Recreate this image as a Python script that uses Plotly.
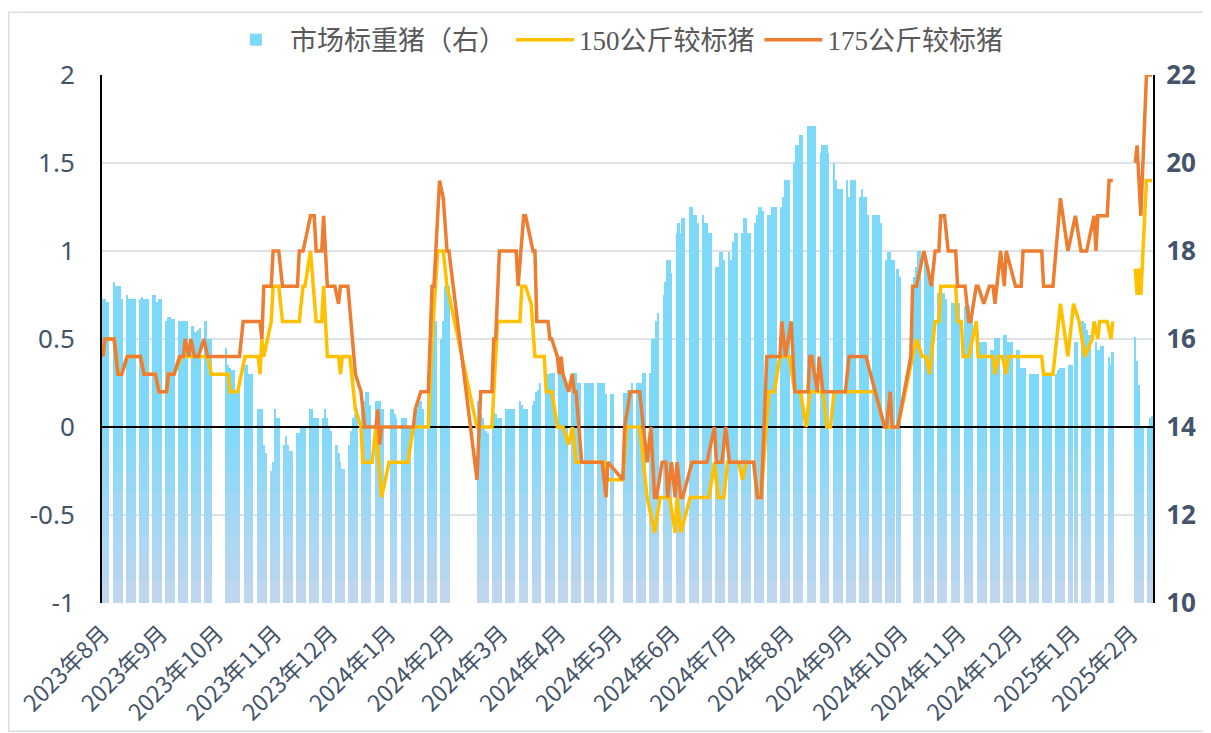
import plotly.graph_objects as go
from datetime import date, timedelta

# ---------------- data ----------------
# Trading-week starts (Mondays) and the market-standard-hog bar values (right axis), Mon..Fri
week_starts = [
    '2023-07-31', '2023-08-07', '2023-08-14', '2023-08-21', '2023-08-28',
    '2023-09-04', '2023-09-11', '2023-09-18', '2023-09-25', '2023-10-02',
    '2023-10-09', '2023-10-16', '2023-10-23', '2023-10-30', '2023-11-06',
    '2023-11-13', '2023-11-20', '2023-11-27', '2023-12-04', '2023-12-11',
    '2023-12-18', '2023-12-25', '2024-01-01', '2024-01-08', '2024-01-15',
    '2024-01-22', '2024-01-29', '2024-02-05', '2024-02-12', '2024-02-19',
    '2024-02-26', '2024-03-04', '2024-03-11', '2024-03-18', '2024-03-25',
    '2024-04-01', '2024-04-08', '2024-04-15', '2024-04-22', '2024-04-29',
    '2024-05-06', '2024-05-13', '2024-05-20', '2024-05-27', '2024-06-03',
    '2024-06-10', '2024-06-17', '2024-06-24', '2024-07-01', '2024-07-08',
    '2024-07-15', '2024-07-22', '2024-07-29', '2024-08-05', '2024-08-12',
    '2024-08-19', '2024-08-26', '2024-09-02', '2024-09-09', '2024-09-16',
    '2024-09-23', '2024-09-30', '2024-10-07', '2024-10-14', '2024-10-21',
    '2024-10-28', '2024-11-04', '2024-11-11', '2024-11-18', '2024-11-25',
    '2024-12-02', '2024-12-09', '2024-12-16', '2024-12-23', '2024-12-30',
    '2025-01-06', '2025-01-13', '2025-01-20', '2025-01-27', '2025-02-03',
    '2025-02-10',
]
N = None
hog_week_values = [
    [N, 16.9, 16.9, 16.85, 16.85], [17.3, 17.2, 17.2, 17.2, 16.9], [17.0, 16.9, 16.9, 16.9, 16.9],
    [16.9, 16.95, 16.9, 16.9, 16.9], [17.0, 17.0, 16.85, 16.9, 16.9], [16.4, 16.5, 16.5, 16.45, 16.45],
    [16.4, 16.4, 16.4, 16.4, 16.4], [16.3, 16.15, 16.15, 16.2, 16.25], [16.4, 16.0, 16.0, 16.0, N],
    [N, N, N, N, 15.8], [15.3, 15.3, 14.84, 14.84, 14.84], [15.4, 15.4, 15.2, 15.2, 15.2],
    [14.42, 14.42, 14.42, 13.6, 13.4], [13.0, 13.2, 14.4, 14.2, 14.2], [13.6, 13.8, 13.6, 13.45, 13.45],
    [13.86, 13.86, 14.0, 14.0, 14.0], [14.42, 14.42, 14.2, 14.2, 14.2], [14.2, 14.42, 14.2, 14.0, 13.9],
    [13.6, 13.4, 13.2, 13.05, 13.05], [13.6, 13.9, 14.2, 14.3, 14.4], [14.5, 14.6, 14.8, 14.8, 14.5],
    [14.6, 14.6, 14.6, 14.42, 14.42], [N, 14.42, 14.42, 14.3, 14.2], [14.2, 14.2, 14.2, 14.0, 14.0],
    [14.2, 14.4, 14.6, 14.6, 14.4], [15.2, 15.4, 15.6, 16.0, 16.4], [16.0, 16.4, 17.2, 17.2, 17.2],
    [N, N, N, N, N], [N, N, N, N, N], [14.3, 14.2, 14.0, 13.9, 13.86],
    [14.35, 14.3, 14.2, 14.2, 14.2], [14.4, 14.4, 14.4, 14.4, 14.4], [14.6, 14.5, 14.42, 14.42, 14.42],
    [14.5, 14.6, 14.8, 14.84, 15.0], [15.2, 15.2, 15.2, 15.22, 15.22], [15.22, 15.22, 15.22, 15.0, 15.0],
    [15.22, 15.22, 15.22, 15.0, 15.0], [15.0, 15.0, 15.0, 15.0, 15.0], [15.0, 15.0, 15.0, 15.0, 14.75],
    [14.75, 14.75, N, N, N], [14.77, 14.77, 14.84, 14.84, 15.0], [15.0, 15.0, 15.0, 15.22, 15.22],
    [15.22, 16.0, 16.0, 16.4, 16.58], [17.0, 17.3, 17.8, 17.8, 17.5], [18.4, 18.63, 18.4, 18.74, 18.74],
    [19.0, 19.0, 18.82, 18.82, 18.63], [18.82, 18.63, 18.63, 18.4, 18.4], [17.64, 17.64, 17.98, 17.98, 17.8],
    [17.98, 17.8, 18.21, 18.4, 18.4], [18.4, 18.74, 18.74, 18.4, 18.4], [18.63, 18.82, 19.0, 19.0, 18.9],
    [18.82, 18.82, 19.0, 19.0, 19.0], [19.0, 19.23, 19.61, 19.61, 19.61], [20.0, 20.41, 20.41, 20.64, 20.64],
    [20.83, 20.83, 20.83, 20.83, 20.83], [20.22, 20.41, 20.41, 20.41, 20.22], [20.0, 19.61, 19.42, 19.42, 19.42],
    [19.61, 19.23, 19.61, 19.61, 19.61], [19.23, 19.42, 19.23, 19.23, 18.82], [18.82, 18.82, 18.82, 18.82, 18.63],
    [17.8, 17.98, 17.98, 17.8, 17.8], [17.42, N, N, N, N], [N, 17.42, 17.64, 18.0, 18.0],
    [17.8, 17.64, 17.3, 17.3, 17.3], [17.04, 17.04, 17.04, 17.04, 16.9], [16.81, 16.81, 16.81, 16.81, 16.81],
    [16.76, 16.76, 16.76, 16.6, 16.6], [16.17, 15.94, 15.94, 15.94, 15.94], [15.75, 15.75, 16.03, 16.03, 16.03],
    [16.1, 16.1, 15.94, 15.94, 15.94], [15.75, 15.75, 15.33, 15.33, 15.33], [15.2, 15.2, 15.2, 15.2, 15.2],
    [15.2, 15.2, 15.2, 15.2, 15.2], [15.2, 15.3, 15.33, 15.33, 15.33], [15.4, 15.4, N, 15.94, 15.94],
    [16.4, 16.36, 16.2, 16.1, 16.1], [15.94, 15.75, 15.75, 15.83, 15.83], [15.6, 15.4, 15.7, N, N],
    [N, N, N, N, N], [16.05, 15.5, 14.95, 14.0, 14.0], [14.0, 14.2, 14.25, N, N],
]
# weekend make-up working days that also carry a bar
extra_days = ['2023-10-07', '2023-10-08', '2024-02-18', '2024-09-29']
extra_values = [15.4, 15.35, 14.6, 17.6]

# 150 kg vs standard hog (left axis), vertices
p150_dates = [
    '2023-08-01', '2023-08-02', '2023-08-07', '2023-08-09', '2023-08-11', '2023-08-14', '2023-08-21', '2023-08-23',
    '2023-08-29', '2023-08-31', '2023-09-04', '2023-09-05', '2023-09-08', '2023-09-12', '2023-09-26', '2023-09-28',
    '2023-10-07', '2023-10-08', '2023-10-12', '2023-10-14', '2023-10-16', '2023-10-23', '2023-10-24', '2023-10-25',
    '2023-10-26', '2023-10-30', '2023-10-31', '2023-11-03', '2023-11-05', '2023-11-14', '2023-11-16', '2023-11-17',
    '2023-11-20', '2023-11-23', '2023-11-26', '2023-11-27', '2023-11-29', '2023-12-05', '2023-12-06', '2023-12-07',
    '2023-12-11', '2023-12-14', '2023-12-17', '2023-12-18', '2023-12-23', '2023-12-25', '2023-12-28', '2024-01-01',
    '2024-01-11', '2024-01-14', '2024-01-22', '2024-01-24', '2024-01-27', '2024-01-30', '2024-02-01', '2024-02-17',
    '2024-02-25', '2024-02-28', '2024-03-11', '2024-03-12', '2024-03-14', '2024-03-17', '2024-03-19', '2024-03-24',
    '2024-03-25', '2024-03-28', '2024-03-31', '2024-04-03', '2024-04-06', '2024-04-08', '2024-04-10', '2024-04-25',
    '2024-04-27', '2024-05-05', '2024-05-07', '2024-05-14', '2024-05-15', '2024-05-18', '2024-05-22', '2024-05-25',
    '2024-05-30', '2024-06-02', '2024-06-03', '2024-06-05', '2024-06-10', '2024-06-20', '2024-06-23', '2024-06-25',
    '2024-06-28', '2024-06-30', '2024-07-06', '2024-07-08', '2024-07-10', '2024-07-14', '2024-07-16', '2024-07-18',
    '2024-07-22', '2024-07-25', '2024-07-28', '2024-08-02', '2024-08-05', '2024-08-08', '2024-08-11', '2024-08-13',
    '2024-08-20', '2024-08-22', '2024-08-24', '2024-08-26', '2024-09-17', '2024-09-22', '2024-09-29', '2024-10-07',
    '2024-10-09', '2024-10-12', '2024-10-14', '2024-10-16', '2024-10-18', '2024-10-19', '2024-10-21', '2024-10-22',
    '2024-10-30', '2024-10-31', '2024-11-02', '2024-11-03', '2024-11-06', '2024-11-10', '2024-11-11', '2024-11-19',
    '2024-11-20', '2024-11-22', '2024-11-24', '2024-11-26', '2024-11-27', '2024-12-15', '2024-12-16', '2024-12-21',
    '2024-12-25', '2024-12-29', '2025-01-01', '2025-01-04', '2025-01-07', '2025-01-11', '2025-01-12', '2025-01-14',
    '2025-01-15', '2025-01-19', '2025-01-21', '2025-01-22', '2025-01-27', '2025-02-03', '2025-02-04', '2025-02-05',
    '2025-02-06', '2025-02-09', '2025-02-12',
]
p150_values = [
    0.4, 0.5, 0.5, 0.3, 0.3, 0.4, 0.4, 0.3,
    0.3, 0.2, 0.2, 0.3, 0.3, 0.4, 0.4, 0.3,
    0.3, 0.2, 0.2, 0.3, 0.4, 0.4, 0.3, 0.5,
    0.4, 0.6, 0.8, 0.8, 0.6, 0.6, 0.8, 0.8,
    1.0, 0.6, 0.6, 0.8, 0.4, 0.4, 0.3, 0.4,
    0.4, 0.1, 0.0, -0.2, -0.2, 0.0, -0.4, -0.2,
    -0.2, 0.0, 0.0, 0.5, 1.0, 1.0, 0.8, 0.0,
    0.0, 0.6, 0.6, 0.8, 0.8, 0.7, 0.4, 0.4,
    0.2, 0.2, 0.0, 0.0, -0.1, 0.0, -0.2, -0.2,
    -0.3, -0.3, 0.0, 0.0, -0.1, -0.4, -0.6, -0.4,
    -0.4, -0.6, -0.4, -0.6, -0.4, -0.4, -0.2, -0.4,
    -0.4, -0.2, -0.2, -0.3, -0.2, -0.2, -0.4, -0.4,
    0.2, 0.2, 0.4, 0.4, 0.2, 0.2, 0.0, 0.2,
    0.2, 0.0, 0.0, 0.2, 0.2, 0.0, 0.0, 0.4,
    0.5, 0.4, 0.4, 0.3, 0.5, 0.6, 0.6, 0.8,
    0.8, 0.6, 0.6, 0.4, 0.4, 0.6, 0.4, 0.4,
    0.3, 0.4, 0.4, 0.3, 0.4, 0.4, 0.3, 0.3,
    0.7, 0.4, 0.7, 0.6, 0.4, 0.5, 0.6, 0.5,
    0.6, 0.6, 0.5, 0.6, None, 0.9, 0.75, 0.9,
    0.75, 1.4, 1.4,
]

# 175 kg vs standard hog (left axis), vertices
p175_dates = [
    '2023-08-01', '2023-08-02', '2023-08-07', '2023-08-09', '2023-08-11', '2023-08-14', '2023-08-21', '2023-08-23',
    '2023-08-29', '2023-08-31', '2023-09-04', '2023-09-05', '2023-09-08', '2023-09-11', '2023-09-13', '2023-09-14',
    '2023-09-16', '2023-09-17', '2023-09-19', '2023-09-21', '2023-09-24', '2023-09-26', '2023-10-13', '2023-10-15',
    '2023-10-24', '2023-10-25', '2023-10-26', '2023-10-30', '2023-10-31', '2023-11-03', '2023-11-05', '2023-11-13',
    '2023-11-14', '2023-11-16', '2023-11-20', '2023-11-22', '2023-11-23', '2023-11-26', '2023-11-27', '2023-11-29',
    '2023-12-03', '2023-12-05', '2023-12-06', '2023-12-10', '2023-12-14', '2023-12-17', '2023-12-19', '2023-12-25',
    '2023-12-26', '2023-12-27', '2023-12-28', '2024-01-14', '2024-01-15', '2024-01-18', '2024-01-22', '2024-01-24',
    '2024-01-25', '2024-01-28', '2024-01-30', '2024-02-01', '2024-02-02', '2024-02-17', '2024-02-19', '2024-02-25',
    '2024-02-26', '2024-02-27', '2024-02-29', '2024-03-09', '2024-03-10', '2024-03-13', '2024-03-14', '2024-03-18',
    '2024-03-19', '2024-03-20', '2024-03-26', '2024-03-27', '2024-03-28', '2024-03-31', '2024-04-01', '2024-04-02',
    '2024-04-03', '2024-04-06', '2024-04-08', '2024-04-09', '2024-04-10', '2024-04-13', '2024-04-24', '2024-04-26',
    '2024-04-27', '2024-05-05', '2024-05-06', '2024-05-09', '2024-05-14', '2024-05-15', '2024-05-18', '2024-05-20',
    '2024-05-22', '2024-05-23', '2024-05-26', '2024-05-28', '2024-05-29', '2024-05-31', '2024-06-02', '2024-06-03',
    '2024-06-05', '2024-06-06', '2024-06-11', '2024-06-19', '2024-06-23', '2024-06-24', '2024-06-27', '2024-06-29',
    '2024-07-01', '2024-07-14', '2024-07-16', '2024-07-18', '2024-07-21', '2024-07-28', '2024-07-29', '2024-07-31',
    '2024-08-03', '2024-08-05', '2024-08-12', '2024-08-13', '2024-08-14', '2024-08-17', '2024-08-18', '2024-08-20',
    '2024-09-01', '2024-09-03', '2024-09-12', '2024-09-17', '2024-09-22', '2024-09-23', '2024-09-25', '2024-09-26',
    '2024-09-29', '2024-10-06', '2024-10-07', '2024-10-09', '2024-10-13', '2024-10-17', '2024-10-19', '2024-10-21',
    '2024-10-22', '2024-10-24', '2024-10-26', '2024-10-30', '2024-10-31', '2024-11-04', '2024-11-06', '2024-11-07',
    '2024-11-10', '2024-11-11', '2024-11-14', '2024-11-17', '2024-11-19', '2024-11-20', '2024-11-23', '2024-11-25',
    '2024-11-26', '2024-12-01', '2024-12-04', '2024-12-05', '2024-12-15', '2024-12-16', '2024-12-21', '2024-12-25',
    '2024-12-29', '2025-01-02', '2025-01-05', '2025-01-08', '2025-01-12', '2025-01-13', '2025-01-14', '2025-01-19',
    '2025-01-20', '2025-01-22', '2025-01-27', '2025-02-03', '2025-02-04', '2025-02-06', '2025-02-09', '2025-02-12',
]
p175_values = [
    0.4, 0.5, 0.5, 0.3, 0.3, 0.4, 0.4, 0.3,
    0.3, 0.2, 0.2, 0.3, 0.3, 0.4, 0.4, 0.5,
    0.4, 0.5, 0.4, 0.4, 0.5, 0.4, 0.4, 0.6,
    0.6, 0.5, 0.8, 0.8, 1.0, 1.0, 0.8, 0.8,
    1.0, 1.0, 1.2, 1.2, 1.0, 1.0, 1.2, 0.8,
    0.8, 0.7, 0.8, 0.8, 0.3, 0.2, 0.0, 0.0,
    0.1, -0.1, 0.0, 0.0, 0.1, 0.2, 0.2, 0.8,
    0.8, 1.4, 1.3, 1.0, 1.0, -0.3, 0.2, 0.2,
    0.5, 0.5, 1.0, 1.0, 0.8, 1.2, 1.2, 1.0,
    1.0, 0.6, 0.6, 0.5, 0.5, 0.4, 0.3, 0.4,
    0.3, 0.2, 0.3, 0.2, 0.2, -0.2, -0.2, -0.4,
    -0.2, -0.3, 0.0, 0.2, 0.2, 0.1, -0.2, 0.0,
    -0.4, -0.4, -0.2, -0.2, -0.4, -0.2, -0.4, -0.2,
    -0.4, -0.4, -0.2, -0.2, 0.0, -0.2, -0.2, 0.0,
    -0.2, -0.2, -0.4, -0.4, 0.4, 0.4, 0.6, 0.4,
    0.6, 0.2, 0.2, 0.4, 0.4, 0.2, 0.4, 0.2,
    0.2, 0.4, 0.4, 0.2, 0.0, 0.0, 0.2, 0.0,
    0.0, 0.4, 0.8, 0.8, 1.0, 0.8, 1.0, 1.0,
    1.2, 1.2, 1.0, 1.0, 0.8, 0.8, 0.6, 0.6,
    0.8, 0.8, 0.7, 0.8, 0.8, 0.7, 1.0, 0.8,
    1.0, 0.8, 0.8, 1.0, 1.0, 0.8, 0.8, 1.3,
    1.0, 1.2, 1.0, 1.0, 1.2, 1.0, 1.2, 1.2,
    1.4, 1.4, None, 1.5, 1.6, 1.2, 2.0, 2.0,
]

month_ticks = [
    '2023-08-01', '2023-09-01', '2023-10-01', '2023-11-01', '2023-12-01', '2024-01-01', '2024-02-01',
    '2024-03-01', '2024-04-01', '2024-05-01', '2024-06-01', '2024-07-01', '2024-08-01', '2024-09-01',
    '2024-10-01', '2024-11-01', '2024-12-01', '2025-01-01', '2025-02-01',
]
month_labels = [
    '2023年8月', '2023年9月', '2023年10月', '2023年11月', '2023年12月', '2024年1月', '2024年2月',
    '2024年3月', '2024年4月', '2024年5月', '2024年6月', '2024年7月', '2024年8月', '2024年9月',
    '2024年10月', '2024年11月', '2024年12月', '2025年1月', '2025年2月',
]
left_ticks = [-1, -0.5, 0, 0.5, 1, 1.5, 2]
left_labels = ['-1', '-0.5', '0', '0.5', '1', '1.5', '2']
right_ticks = [10, 12, 14, 16, 18, 20, 22]
right_labels = ['10', '12', '14', '16', '18', '20', '22']

X_START, X_END = '2023-07-31 12:00', '2025-02-12 12:00'

# ---------------- build bar series (daily) ----------------
bar_x, bar_v = [], []
for ws, vals in zip(week_starts, hog_week_values):
    d0 = date.fromisoformat(ws)
    for j, v in enumerate(vals):
        if v is not None:
            bar_x.append((d0 + timedelta(days=j)).isoformat())
            bar_v.append(v)
for dx, v in zip(extra_days, extra_values):
    bar_x.append(dx)
    bar_v.append(v)

DAY_MS = 86400000

# vertical colour gradient approximated with stacked bands
pale = (190, 214, 238)
cyan = (125, 217, 250)
band_edges = [10.0, 10.5, 11.0, 11.5, 12.0, 12.5, 13.0, 13.5, 14.0, 14.5, 22.0]
n_b = len(band_edges) - 1

fig = go.Figure()
for k in range(n_b):
    lo, hi = band_edges[k], band_edges[k + 1]
    t = min(1.0, k / (n_b - 2)) if n_b > 2 else 1.0
    col = tuple(round(pale[i] + (cyan[i] - pale[i]) * t) for i in range(3))
    heights = [(min(v, hi) - lo) if v > lo else None for v in bar_v]
    fig.add_trace(go.Bar(
        x=bar_x, y=heights, base=lo, width=DAY_MS,
        marker=dict(color='rgb(%d,%d,%d)' % col, line=dict(width=0)),
        name='市场标重猪（右）', showlegend=(k == n_b - 1), legendrank=1,
        yaxis='y', hoverinfo='skip',
    ))

# zero reference line of the left axis (below the series lines, above the bars)
fig.add_trace(go.Scatter(
    x=[X_START, X_END], y=[0, 0], yaxis='y2', mode='lines',
    line=dict(color='black', width=2), showlegend=False, hoverinfo='skip'))

fig.add_trace(go.Scatter(
    x=p150_dates, y=p150_values, yaxis='y2', mode='lines', name='150公斤较标猪',
    line=dict(color='#FFC000', width=3.5), connectgaps=False, legendrank=2))
fig.add_trace(go.Scatter(
    x=p175_dates, y=p175_values, yaxis='y2', mode='lines', name='175公斤较标猪',
    line=dict(color='#ED7D31', width=3.5), connectgaps=False, legendrank=3))

tick_color = '#44546A'
# the page places the figure 8 px from the top-left corner, so the figure is 8 px smaller
fig.update_layout(
    width=1203, height=725,
    margin=dict(l=94, r=58, t=67, b=130, autoexpand=False),
    paper_bgcolor='white', plot_bgcolor='white',
    barmode='overlay', bargap=0,
    showlegend=True,
    legend=dict(orientation='h', x=0.488, xanchor='center', y=1.066, yanchor='middle',
                font=dict(family='Liberation Serif, Noto Sans CJK SC', size=27, color='#595959'),
                bgcolor='rgba(0,0,0,0)', traceorder='normal', itemwidth=58),
    xaxis=dict(type='date', range=[X_START, X_END], tickvals=month_ticks, ticktext=month_labels,
               tickangle=-45, tickfont=dict(family='Noto Sans CJK SC', size=23, color=tick_color),
               showgrid=False, showline=False, zeroline=False, automargin=False,
               ticks='outside', ticklen=7, tickcolor='rgba(0,0,0,0)'),
    yaxis=dict(side='right', range=[10, 22], tickvals=right_ticks, ticktext=right_labels,
               tickfont=dict(family='Noto Sans', size=26, color=tick_color, weight=700),
               showgrid=True, gridcolor='#DDE2E9', gridwidth=1.5, automargin=False,
               showline=True, linecolor='black', linewidth=2, zeroline=False,
               ticks='outside', ticklen=6, tickcolor='rgba(0,0,0,0)'),
    yaxis2=dict(overlaying='y', side='left', range=[-1, 2], tickvals=left_ticks, ticktext=left_labels,
                tickfont=dict(family='Noto Sans', size=26, color=tick_color),
                showgrid=False, showline=True, linecolor='black', linewidth=2, zeroline=False,
                automargin=False, ticks='outside', ticklen=20, tickcolor='rgba(0,0,0,0)'),
    shapes=[dict(type='rect', xref='paper', yref='paper', x0=-0.0887, x1=1.0523, y0=-0.243, y1=1.119,
                 line=dict(color='#D9DEE5', width=1.5), fillcolor='rgba(0,0,0,0)', layer='below')],
)

fig.write_html('out.html')
